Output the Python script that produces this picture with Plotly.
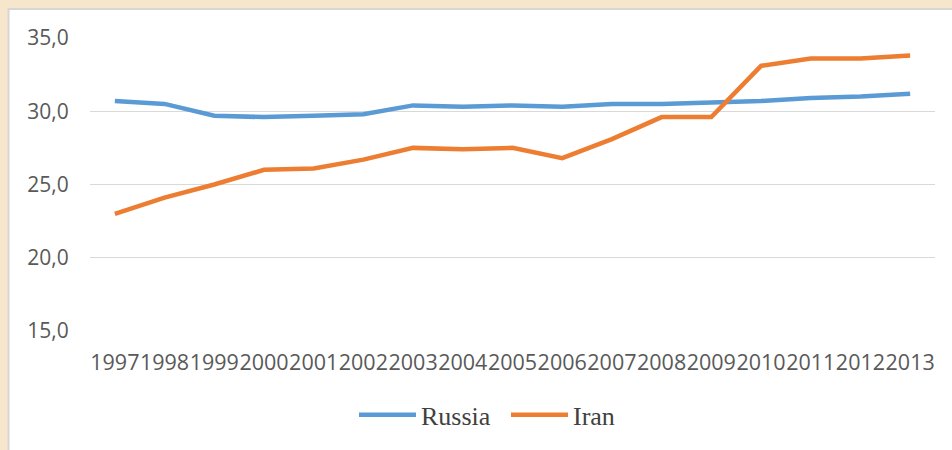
import plotly.graph_objects as go

years = ["1997", "1998", "1999", "2000", "2001", "2002", "2003", "2004", "2005",
         "2006", "2007", "2008", "2009", "2010", "2011", "2012", "2013"]
russia = [30.7, 30.5, 29.7, 29.6, 29.7, 29.8, 30.4, 30.3, 30.4, 30.3, 30.5, 30.5,
          30.6, 30.7, 30.9, 31.0, 31.2]
iran = [23.0, 24.1, 25.0, 26.0, 26.1, 26.7, 27.5, 27.4, 27.5, 26.8, 28.1, 29.6,
        29.6, 33.1, 33.6, 33.6, 33.8]
y_ticks = [15, 20, 25, 30, 35]

fig = go.Figure()
fig.add_trace(go.Scatter(x=years, y=russia, name="Russia", mode="lines",
                         line=dict(color="#5B9BD5", width=4.5)))
fig.add_trace(go.Scatter(x=years, y=iran, name="Iran", mode="lines",
                         line=dict(color="#ED7D31", width=4.5)))

W, H = 952, 450
L, R, T, B = 90, 17, 38, 115
pw, ph = W - L - R, H - T - B

def px_x(px):
    return (px - L) / pw

def px_y(py):
    return (H - B - py) / ph

fig.add_shape(type="rect", xref="paper", yref="paper",
              x0=px_x(8.5), x1=px_x(960), y0=px_y(460), y1=px_y(8.5),
              fillcolor="white", line=dict(color="#D6D6D6", width=2), layer="below")

fig.update_layout(
    width=W, height=H,
    margin=dict(l=L, r=R, t=T, b=B),
    paper_bgcolor="#F5E6CC",
    plot_bgcolor="rgba(0,0,0,0)",
    separators=", ",
    showlegend=True,
    legend=dict(orientation="h", x=px_x(354), y=px_y(420), xanchor="left",
                yanchor="middle", bgcolor="rgba(0,0,0,0)",
                entrywidth=80, entrywidthmode="pixels", itemwidth=57,
                font=dict(family="Liberation Serif", size=26, color="#404040")),
    xaxis=dict(type="category", range=[-0.5, len(years) - 0.5], tickangle=0,
               showgrid=False, showline=False, ticks="outside", ticklen=12,
               tickcolor="rgba(0,0,0,0)",
               tickfont=dict(family="Open Sans", size=21.5, color="#595959")),
    yaxis=dict(range=[15, 35], tickvals=y_ticks, tickformat=".1f",
               showgrid=True, gridcolor="#D9D9D9", gridwidth=1, zeroline=False,
               showline=False, ticks="outside", ticklen=16,
               tickcolor="rgba(0,0,0,0)",
               tickfont=dict(family="Open Sans", size=21, color="#595959")),
)

fig.write_html("out.html")
